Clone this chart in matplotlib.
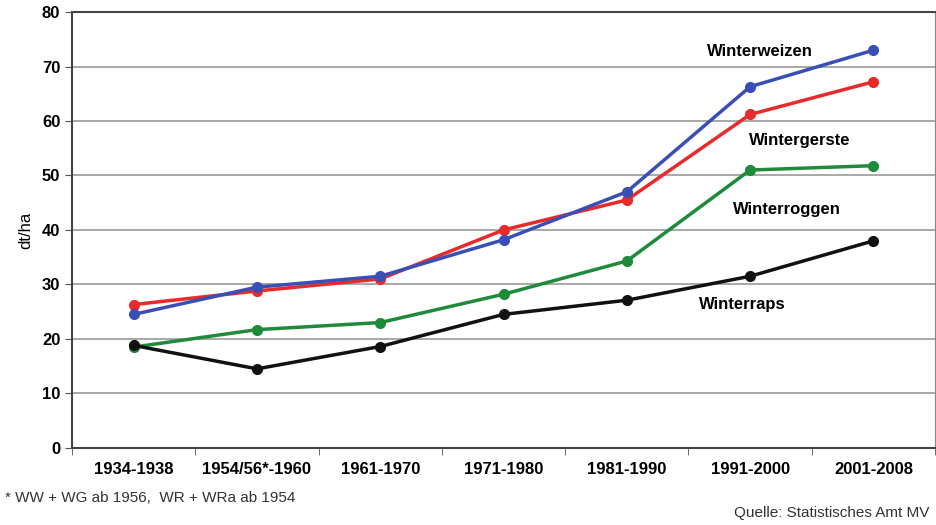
import numpy as np
import matplotlib.pyplot as plt

plt.rcParams['font.family'] = ['Liberation Sans', 'DejaVu Sans']

perioden = ['1934-1938', '1954/56*-1960', '1961-1970', '1971-1980',
            '1981-1990', '1991-2000', '2001-2008']
winterweizen = [24.5, 29.5, 31.5, 38.2, 47.0, 66.3, 73.0]
wintergerste = [26.3, 28.8, 31.0, 40.0, 45.5, 61.2, 67.2]
winterroggen = [18.5, 21.7, 23.0, 28.2, 34.3, 51.0, 51.8]
winterraps = [18.8, 14.5, 18.6, 24.5, 27.1, 31.5, 38.0]

x = np.arange(len(perioden))

fig = plt.figure(figsize=(9.36, 5.25), dpi=100)
ax = fig.add_axes([0.077, 0.147, 0.922, 0.83])

ax.plot(x, winterweizen, '-o', color='#3a4fb5', lw=2.5, ms=7, zorder=4)
ax.plot(x, wintergerste, '-o', color='#e82a2a', lw=2.5, ms=7, zorder=3)
ax.plot(x, winterroggen, '-o', color='#1f8a3a', lw=2.5, ms=7, zorder=3)
ax.plot(x, winterraps, '-o', color='#111111', lw=2.5, ms=7, zorder=3)

ax.text(5.08, 72.8, 'Winterweizen', fontsize=12, fontweight='bold', ha='center', va='center')
ax.text(5.4, 56.5, 'Wintergerste', fontsize=12, fontweight='bold', ha='center', va='center')
ax.text(5.3, 43.7, 'Winterroggen', fontsize=12, fontweight='bold', ha='center', va='center')
ax.text(4.94, 26.4, 'Winterraps', fontsize=12, fontweight='bold', ha='center', va='center')

ax.set_xlim(-0.5, len(perioden) - 0.5)
ax.set_ylim(0, 80)
ax.set_yticks(range(0, 81, 10))
ax.set_xticks(x)
ax.set_xticklabels(perioden, fontsize=12, fontweight='bold')
ax.set_xticks(np.arange(-0.5, len(perioden), 1), minor=True)
ax.tick_params(axis='x', which='major', length=0, pad=10)
ax.tick_params(axis='x', which='minor', length=5, color='#555555')
ax.tick_params(axis='y', labelsize=12, length=5, color='#555555')
for lbl in ax.get_yticklabels():
    lbl.set_fontweight('bold')

ax.yaxis.grid(True, color='#999999', lw=1.2)
ax.set_axisbelow(True)
for s in ['left', 'bottom', 'top']:
    ax.spines[s].set_color('#444444')
    ax.spines[s].set_linewidth(1.5)
ax.spines['right'].set_color('#888888')

ax.set_ylabel('dt/ha', fontsize=12, labelpad=6)

fig.text(0.005, 0.051, '* WW + WG ab 1956,  WR + WRa ab 1954', fontsize=11, color='#333333', va='center')
fig.text(0.993, 0.023, 'Quelle: Statistisches Amt MV', fontsize=11, color='#333333', ha='right', va='center')

fig.savefig('out.png', dpi=100)
